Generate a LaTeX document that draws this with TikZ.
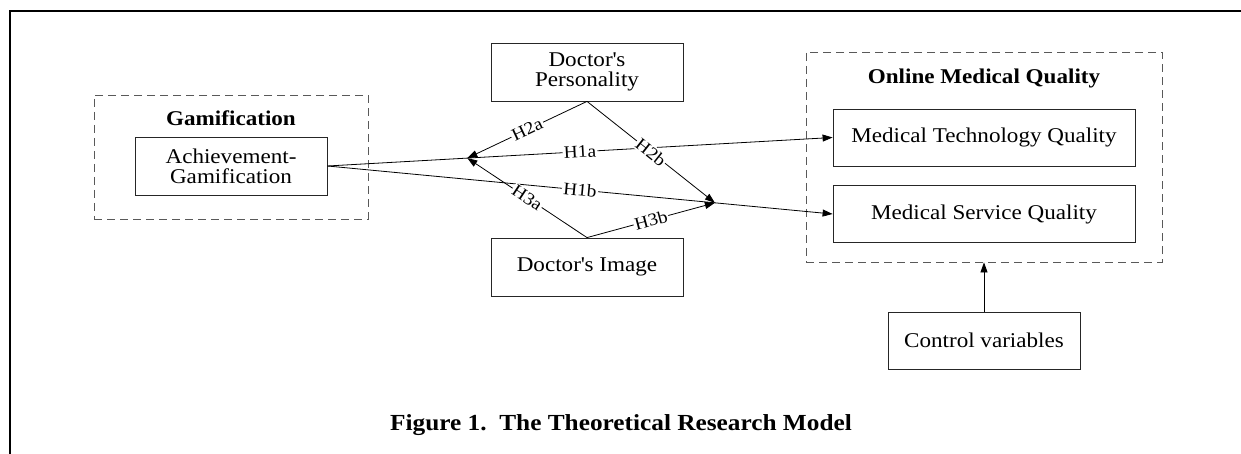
\documentclass[tikz,border=0pt]{standalone}
\usepackage{fontspec}
\setmainfont[FakeStretch=1.1]{Liberation Serif}
\usepackage{tikz}
\usetikzlibrary{positioning,calc,arrows.meta}
\tikzset{
  varBox/.style={
    rectangle,
    draw=black!85,
    thin,
    minimum width=96pt,
    minimum height=29pt,
    inner sep=2pt,
    align=center,
    font=\fontsize{10.5}{10}\selectfont
  },
  groupBox/.style={
    rectangle,
    draw=black!65,
    thin,
    dash pattern=on 4pt off 2.5pt
  },
  groupTitle/.style={
    font=\fontsize{10.5}{12}\selectfont\bfseries
  },
  arrowLine/.style={
    -{Triangle[length=5pt,width=3.5pt]},
    thin
  },
  hypLabel/.style={
    sloped,
    fill=white,
    inner sep=0.6pt,
    font=\fontsize{8.8}{9}\selectfont
  }
}

\begin{document}
\begin{tikzpicture}[x=0.5pt,y=-0.5pt]
        \useasboundingbox (0,0) rectangle (1241,454);
        \draw[line width=1.3pt] (10,454) -- (10,11) -- (1241,11);

        % groups
        \node[groupBox, minimum width=137pt, minimum height=62pt] (gam) at (231,157) {};
        \node[groupTitle] (gamTitle) at (231,118) {Gamification};
        \node[groupBox, minimum width=178pt, minimum height=105pt] (omq) at (984,157) {};
        \node[groupTitle] (omqTitle) at (984,78) {Online Medical Quality};

        % variables
        \node[varBox] (ach) at (231,166) {Achievement-\\Gamification};
        \node[varBox] (pers) at (587,72) {Doctor\textquotesingle s\\Personality};
        \node[varBox] (img) at (587,267) {Doctor\textquotesingle s Image};
        \node[varBox, minimum width=151pt, minimum height=28.5pt] (mtq) at (984,137.5) {Medical Technology Quality};
        \node[varBox, minimum width=151pt, minimum height=28.5pt] (msq) at (984,214) {Medical Service Quality};
        \node[varBox, minimum height=28.5pt] (ctrl) at (984,340.5) {Control variables};

        \coordinate (jl) at ($(ach.east)!0.277!(mtq.west)$);
        \coordinate (jr) at ($(ach.east)!0.767!(msq.west)$);

        \draw[arrowLine] (ach.east) -- node[hypLabel]{H1a} (mtq.west);
        \draw[arrowLine] (ach.east) -- node[hypLabel]{H1b} (msq.west);
        \draw[arrowLine] (pers.south) -- node[hypLabel]{H2a} (jl);
        \draw[arrowLine] (pers.south) -- node[hypLabel]{H2b} (jr);
        \draw[arrowLine] (img.north) -- node[hypLabel]{H3a} (jl);
        \draw[arrowLine] (img.north) -- node[hypLabel]{H3b} (jr);
        \draw[arrowLine] (ctrl.north) -- (omq.south);

        \node[font=\fontsize{11.5}{13}\selectfont\bfseries] (caption) at (621,425) {Figure 1.\ \ The Theoretical Research Model};
    \end{tikzpicture}
\end{document}
